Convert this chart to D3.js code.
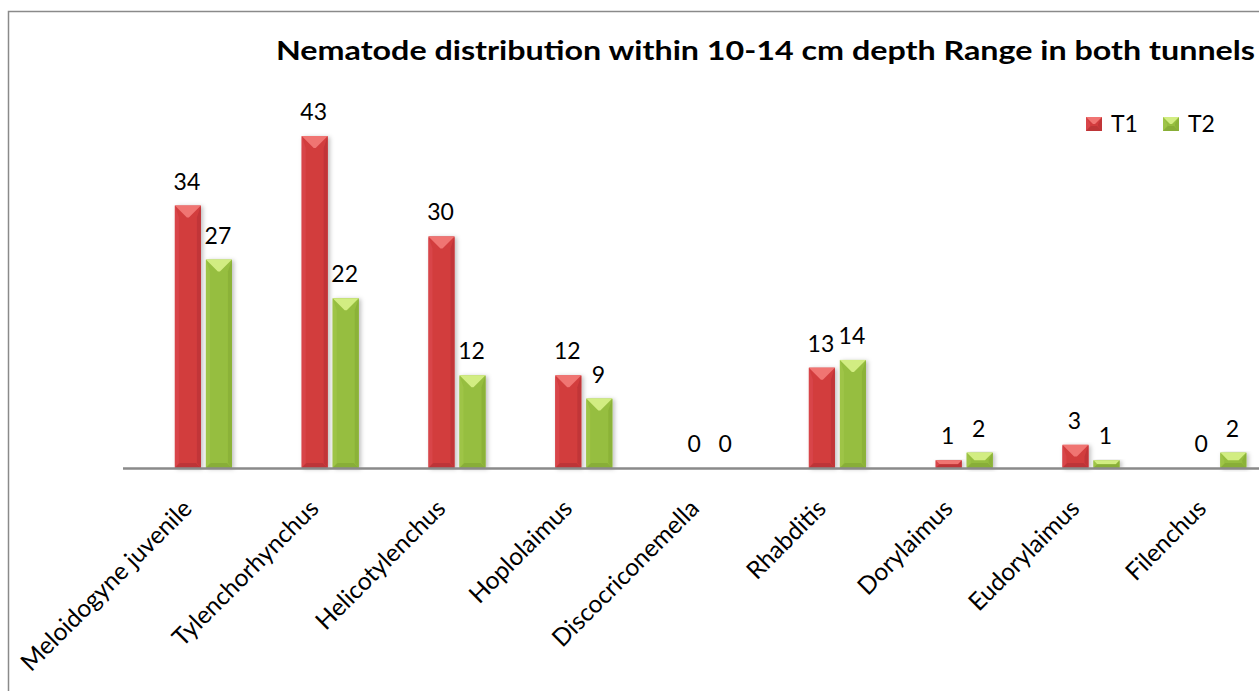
<!DOCTYPE html>
<html>
<head>
<meta charset="utf-8">
<script src="https://cdn.jsdelivr.net/npm/d3@7"></script>
<style>
  html, body { margin: 0; padding: 0; background: #fff; }
  svg { display: block; }
</style>
</head>
<body>
<svg id="chart" width="1259" height="691"></svg>
<script>
const categories = ["Meloidogyne juvenile", "Tylenchorhynchus", "Helicotylenchus", "Hoplolaimus",
  "Discocriconemella", "Rhabditis", "Dorylaimus", "Eudorylaimus", "Filenchus"];
const seriesNames = ["T1", "T2"];
const t1Values = [34, 43, 30, 12, 0, 13, 1, 3, 0];
const t2Values = [27, 22, 12, 9, 0, 14, 2, 1, 2];
const titleText = "Nematode distribution within 10-14 cm depth Range in both tunnels";

const FONT = "Lato, 'Open Sans', sans-serif";
const svg = d3.select("#chart");
const defs = svg.append("defs");
const f = defs.append("filter").attr("id", "shadow").attr("x", "-30%").attr("y", "-10%").attr("width", "160%").attr("height", "130%");
f.append("feDropShadow").attr("dx", 2).attr("dy", 1).attr("stdDeviation", 2).attr("flood-color", "#000").attr("flood-opacity", 0.25);

const palette = {
  T1: { body: "#d23c3e", top: "#f07472", left: "#d8454a", right: "#c13538", bottom: "#b33234" },
  T2: { body: "#96be3f", top: "#d2ed82", left: "#9ec447", right: "#8bb238", bottom: "#82a634" }
};

// chart border
svg.append("rect").attr("x", 8.5).attr("y", 11.5).attr("width", 1400).attr("height", 1000)
  .attr("fill", "none").attr("stroke", "#8a8a8a").attr("stroke-width", 1.5);

const baseY = 468;
const x0 = d3.scaleBand().domain(categories).range([140, 1281.2]).paddingInner(0.55).paddingOuter(0.275);
const x1 = d3.scaleBand().domain(seriesNames).range([0, x0.bandwidth()]).paddingInner(5 / 31);
const y = d3.scaleLinear().domain([0, 50]).range([baseY, baseY - 386]);

const data = categories.map((c, i) => ({ cat: c, vals: [
  { s: "T1", v: t1Values[i] }, { s: "T2", v: t2Values[i] }] }));

function pts(a) { return a.map(d => d.join(",")).join(" "); }
function bevelBar(g, x, yTop, w, h, p) {
  if (h <= 0) return;
  const b = Math.min(w / 2, h / 2, 12);
  const bb = Math.min(w / 2, h / 2, 5);
  const yb = yTop + h;
  g.append("rect").attr("x", x).attr("y", yTop).attr("width", w).attr("height", h).attr("fill", p.body);
  g.append("polygon").attr("points", pts([[x, yTop], [x + 4, yTop + b], [x + 4, yb - bb], [x, yb]])).attr("fill", p.left);
  g.append("polygon").attr("points", pts([[x + w, yTop], [x + w - 4, yTop + b], [x + w - 4, yb - bb], [x + w, yb]])).attr("fill", p.right);
  g.append("polygon").attr("points", pts([[x, yTop], [x + w, yTop], [x + w / 2 + Math.max(0, w / 2 - b), yTop + b], [x + w / 2 - Math.max(0, w / 2 - b), yTop + b]])).attr("fill", p.top);
  g.append("polygon").attr("points", pts([[x, yb], [x + w, yb], [x + w - bb, yb - bb], [x + bb, yb - bb]])).attr("fill", p.bottom).attr("opacity", 0.7);
}

const groups = svg.append("g").selectAll("g").data(data).join("g")
  .attr("transform", d => `translate(${x0(d.cat)},0)`);

groups.each(function (d) {
  const g = d3.select(this);
  d.vals.forEach(v => {
    const bx = x1(v.s), w = x1.bandwidth();
    const h = baseY - y(v.v);
    const bg = g.append("g").attr("filter", "url(#shadow)");
    bevelBar(bg, bx, y(v.v), w, h, palette[v.s]);
    g.append("text").attr("x", bx + w / 2 - 1).attr("y", y(v.v) - 16)
      .attr("text-anchor", "middle").attr("font-family", FONT).attr("font-size", 23)
      .attr("fill", "#000").text(v.v);
  });
});

// x axis line
svg.append("line").attr("x1", 123).attr("x2", 1259).attr("y1", baseY + 0.5).attr("y2", baseY + 0.5)
  .attr("stroke", "#8a8a8a").attr("stroke-width", 2.5);

// category labels
svg.append("g").selectAll("text").data(categories).join("text")
  .attr("transform", d => `translate(${x0(d) + x0.bandwidth() / 2 - 10},${510}) rotate(-45)`)
  .attr("text-anchor", "end").attr("font-family", FONT).attr("font-size", 24.5).attr("fill", "#000")
  .text(d => d);

// title
svg.append("text").attr("x", 276).attr("y", 60).attr("font-family", FONT).attr("font-weight", "bold")
  .attr("font-size", 26).attr("textLength", 979).attr("lengthAdjust", "spacingAndGlyphs")
  .attr("fill", "#000").text(titleText);

// legend
const legendX = [1086, 1163];
const lg = svg.append("g").selectAll("g").data(seriesNames).join("g")
  .attr("transform", (d, i) => `translate(${legendX[i]},117)`);
lg.each(function (d) {
  const g = d3.select(this);
  bevelBar(g, 0, 0, 16, 14, palette[d]);
});
lg.append("text").attr("x", 25).attr("y", 14.5).attr("font-family", FONT).attr("font-size", 23)
  .attr("fill", "#000").text(d => d);
</script>
</body>
</html>
